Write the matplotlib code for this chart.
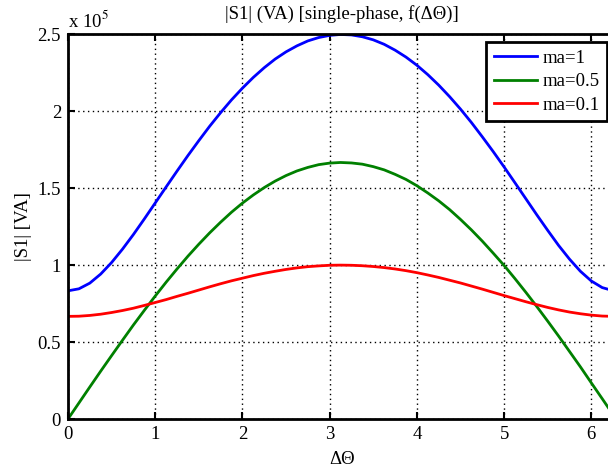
import matplotlib
matplotlib.use('Agg')
import matplotlib.pyplot as plt

# valores (eje y en unidades de 1e5 VA)
theta = [0, 0.125, 0.25, 0.375, 0.5, 0.625, 0.75, 0.875, 1.0, 1.125, 1.25,
         1.375, 1.5, 1.625, 1.75, 1.875, 2.0, 2.125, 2.25, 2.375, 2.5, 2.625,
         2.75, 2.875, 3.0, 3.125, 3.25, 3.375, 3.5, 3.625, 3.75, 3.875, 4.0,
         4.125, 4.25, 4.375, 4.5, 4.625, 4.75, 4.875, 5.0, 5.125, 5.25, 5.375,
         5.5, 5.625, 5.75, 5.875, 6.0, 6.125, 6.25, 6.283]
s_ma1 = [0.833, 0.846, 0.883, 0.942, 1.017, 1.104, 1.199, 1.300, 1.404, 1.508,
         1.611, 1.712, 1.809, 1.903, 1.991, 2.074, 2.150, 2.220, 2.283, 2.339,
         2.386, 2.425, 2.457, 2.479, 2.493, 2.499, 2.496, 2.484, 2.464, 2.435,
         2.397, 2.352, 2.299, 2.238, 2.170, 2.095, 2.014, 1.927, 1.834, 1.738,
         1.638, 1.535, 1.431, 1.327, 1.226, 1.128, 1.039, 0.960, 0.897, 0.854,
         0.834, 0.833]
s_ma05 = [0, 0.104, 0.208, 0.311, 0.412, 0.512, 0.611, 0.706, 0.799, 0.889,
          0.975, 1.058, 1.136, 1.210, 1.279, 1.344, 1.403, 1.456, 1.504, 1.546,
          1.582, 1.612, 1.635, 1.653, 1.663, 1.667, 1.664, 1.656, 1.640, 1.619,
          1.590, 1.557, 1.516, 1.469, 1.418, 1.361, 1.297, 1.229, 1.156, 1.078,
          0.998, 0.912, 0.823, 0.731, 0.636, 0.539, 0.439, 0.339, 0.235, 0.132,
          0.028, 0]
s_ma01 = [0.667, 0.668, 0.673, 0.681, 0.692, 0.705, 0.720, 0.738, 0.757, 0.776,
          0.797, 0.817, 0.838, 0.859, 0.879, 0.898, 0.915, 0.932, 0.947, 0.960,
          0.972, 0.982, 0.990, 0.995, 0.999, 1.000, 0.999, 0.996, 0.991, 0.984,
          0.975, 0.964, 0.951, 0.936, 0.920, 0.902, 0.884, 0.864, 0.844, 0.823,
          0.802, 0.782, 0.762, 0.743, 0.725, 0.709, 0.695, 0.684, 0.675, 0.669,
          0.667, 0.667]
etiquetas = ['ma=1', 'ma=0.5', 'ma=0.1']
yticks = [0, 0.5, 1, 1.5, 2, 2.5]
ytick_labels = ['0', '0.5', '1', '1.5', '2', '2.5']
xticks = [0, 1, 2, 3, 4, 5, 6]

plt.rcParams['font.family'] = ['Liberation Serif', 'DejaVu Serif']
plt.rcParams['mathtext.fontset'] = 'stix'
fs = 13.5

fig = plt.figure(figsize=(6.08, 4.70), dpi=100)
# el eje se sale por la derecha como en la imagen original
ax = fig.add_axes([68 / 608, 51 / 470, 548 / 608, 384.7 / 470])

ax.plot(theta, s_ma1, color=(0, 0, 1), lw=2, label=etiquetas[0])
ax.plot(theta, s_ma05, color=(0, 0.5, 0), lw=2, label=etiquetas[1])
ax.plot(theta, s_ma01, color=(1, 0, 0), lw=2, label=etiquetas[2])

ax.set_xlim(0, 6.2832)
ax.set_ylim(0, 2.5)
ax.set_xticks(xticks)
ax.set_yticks(yticks)
ax.set_yticklabels(ytick_labels)
ax.tick_params(direction='in', top=True, right=True, length=5, width=1.5,
               labelsize=fs, pad=5)
for s in ax.spines.values():
    s.set_linewidth(2)
ax.grid(True, color='black', linestyle=(0, (1, 2.5)), linewidth=1)

ax.set_title('|S1| (VA) [single-phase, f(\u0394\u0398)]', fontsize=fs, pad=11)
ax.set_xlabel('\u0394\u0398', fontsize=fs, labelpad=6)
ax.set_ylabel('|S1| [VA]', fontsize=fs, labelpad=4)
ax.text(0, 1.008, r'x 10$^{5}$', transform=ax.transAxes, fontsize=fs,
        ha='left', va='bottom')

leg = ax.legend(loc='upper right', bbox_to_anchor=(0.984, 0.98),
                borderaxespad=0, fontsize=fs, fancybox=False,
                edgecolor='black', framealpha=1, handlelength=2.3,
                handletextpad=0.3, labelspacing=0.35, borderpad=0.4)
leg.get_frame().set_linewidth(2)

fig.savefig('out.png', dpi=100)
